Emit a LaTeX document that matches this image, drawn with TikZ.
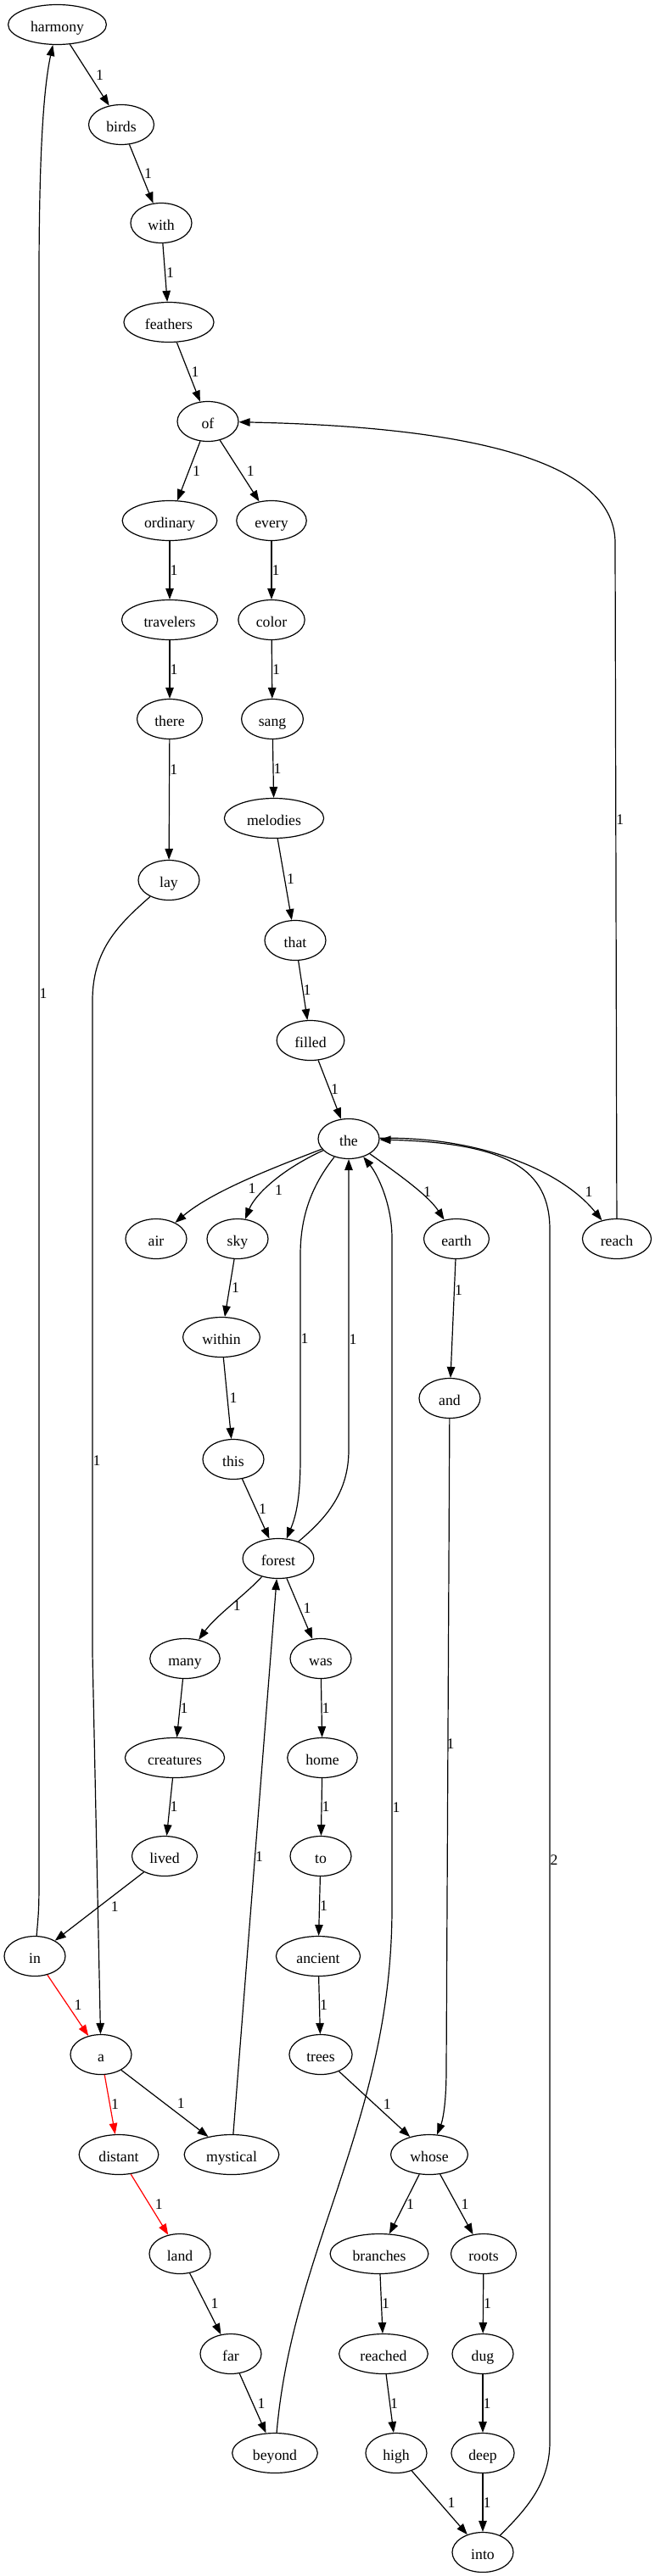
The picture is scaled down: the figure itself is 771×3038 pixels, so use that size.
\documentclass[tikz,border=0pt]{standalone}
\usepackage{fontspec}
\setmainfont{Liberation Serif}
\usepackage{tikz}
\usetikzlibrary{arrows.meta, shapes.geometric}

\newcommand{\wordsize}{\fontsize{17.7pt}{21pt}\selectfont}

\tikzset{
  word/.style={ellipse, draw, line width=1.2pt, font=\wordsize, inner xsep=9.5pt, inner ysep=2pt,
    minimum width=72pt, minimum height=47pt, text height=19pt, text depth=2pt},
  link/.style={line width=1.2pt, -{Triangle[length=13pt, width=9.5pt]}},
  redlink/.style={link, red},
  wt/.style={font=\wordsize, text=black, inner sep=0pt, anchor=west, midway},
}

\begin{document}
\begin{tikzpicture}[x=1pt, y=-1pt]
  \path[use as bounding box] (0,0) rectangle (771,3038);
  % 上部节点
  \node[word] (harmony) at (67.5,29) {harmony};
  \node[word] (birds) at (143,147) {birds};
  \node[word] (with) at (190,263) {with};
  \node[word] (feathers) at (199,380) {feathers};
  \node[word] (of) at (245,497) {of};
  \node[word] (ordinary) at (200,614) {ordinary};
  \node[word] (every) at (320,614) {every};
  \node[word] (travelers) at (200,731) {travelers};
  \node[word] (color) at (320,731) {color};
  \node[word] (there) at (200,848) {there};
  \node[word] (sang) at (321,848) {sang};
  \node[word] (melodies) at (323,965) {melodies};
  \node[word] (lay) at (199,1038) {lay};
  \node[word] (that) at (348,1109) {that};
  \node[word] (filled) at (366,1227) {filled};
  \node[word] (the) at (411,1343) {the};
  % 中部节点
  \node[word] (air) at (184,1461) {air};
  \node[word] (sky) at (280,1461) {sky};
  \node[word] (earth) at (538,1461) {earth};
  \node[word] (reach) at (727,1461) {reach};
  \node[word] (within) at (261,1577) {within};
  \node[word] (and) at (530,1649) {and};
  \node[word] (this) at (275,1721) {this};
  \node[word] (forest) at (328,1838) {forest};
  \node[word] (many) at (218,1956) {many};
  \node[word] (was) at (378,1956) {was};
  \node[word] (creatures) at (206,2073) {creatures};
  \node[word] (home) at (380,2073) {home};
  \node[word] (lived) at (194,2189) {lived};
  \node[word] (to) at (378,2189) {to};
  \node[word] (in) at (41,2307) {in};
  \node[word] (ancient) at (375,2307) {ancient};
  \node[word] (a) at (119,2423) {a};
  \node[word] (trees) at (378,2423) {trees};
  % 下部节点
  \node[word] (distant) at (140,2541) {distant};
  \node[word] (mystical) at (273,2541) {mystical};
  \node[word] (whose) at (506,2541) {whose};
  \node[word] (land) at (212,2658) {land};
  \node[word] (branches) at (447,2658) {branches};
  \node[word] (roots) at (570,2658) {roots};
  \node[word] (far) at (272,2776) {far};
  \node[word] (reached) at (452,2776) {reached};
  \node[word] (dug) at (569,2776) {dug};
  \node[word] (beyond) at (324,2893) {beyond};
  \node[word] (high) at (467,2893) {high};
  \node[word] (deep) at (569,2893) {deep};
  \node[word] (into) at (569,3010) {into};

  % 上部链
  \draw[link] (harmony) -- node[wt, xshift=7pt]{1} (birds);
  \draw[link] (birds) -- node[wt, xshift=3pt]{1} (with);
  \draw[link] (with) -- node[wt, xshift=1pt]{1} (feathers);
  \draw[link] (feathers) -- node[wt, xshift=3pt]{1} (of);
  \draw[link] (of) -- node[wt, xshift=4pt]{1} (ordinary);
  \draw[link] (of) -- node[wt, xshift=8pt]{1} (every);
  \draw[link] (ordinary) -- node[wt]{1} (travelers);
  \draw[link] (travelers) -- node[wt]{1} (there);
  \draw[link] (there) -- node[wt, pos=0.25]{1} (lay);
  \draw[link] (every) -- node[wt]{1} (color);
  \draw[link] (color) -- node[wt]{1} (sang);
  \draw[link] (sang) -- node[wt]{1} (melodies);
  \draw[link] (melodies) -- node[wt, xshift=2pt]{1} (that);
  \draw[link] (that) -- node[wt]{1} (filled);
  \draw[link] (filled) -- node[wt, xshift=1pt]{1} (the);

  % the 的分支
  \draw[link] (the) .. controls (320,1378) and (250,1405) .. node[wt, pos=0.6, xshift=23pt]{1} (air);
  \draw[link] (the) .. controls (330,1380) and (300,1410) .. node[wt, pos=0.6, xshift=12pt]{1} (sky);
  \draw[link] (the) .. controls (470,1385) and (505,1410) .. node[wt, pos=0.6, xshift=4pt]{1} (earth);
  \draw[link] (the) .. controls (560,1340) and (660,1378) .. node[wt, pos=0.8, xshift=15pt]{1} (reach);
  \draw[link] (reach) -- node[wt, pos=0.59]{1} (725,640) .. controls (725,540) and (540,503) .. (of);

  % 回到 the 的长边
  \draw[link] (the) .. controls (370,1395) and (354,1430) .. (354,1480)
    -- node[wt, pos=0.41]{1} (354,1720) .. controls (354,1770) and (348,1790) .. (forest);
  \draw[link] (forest) .. controls (385,1790) and (411,1760) .. (411,1710)
    -- node[wt, pos=0.38]{1} (the);
  \draw[link] (beyond) .. controls (345,2650) and (462,2500) .. (462,2250)
    -- node[wt, pos=0.15]{1} (462,1460) .. controls (462,1420) and (445,1385) .. (the);
  \draw[link] (into) .. controls (625,2955) and (648,2925) .. (648,2880)
    -- node[wt, pos=0.48]{2} (648,1450) .. controls (648,1380) and (600,1348) .. (the);

  % forest 周围
  \draw[link] (sky) -- node[wt, xshift=2pt]{1} (within);
  \draw[link] (within) -- node[wt, xshift=2pt]{1} (this);
  \draw[link] (this) -- node[wt, xshift=3pt]{1} (forest);
  \draw[link] (earth) -- node[wt, pos=0.26]{1} (and);
  \draw[link] (and) -- node[wt, xshift=-2pt]{1} (526,2440) .. controls (526,2490) and (520,2505) .. (whose);
  \draw[link] (forest) .. controls (290,1880) and (255,1905) .. node[wt, pos=0.5, xshift=2pt]{1} (many);
  \draw[link] (forest) -- node[wt, xshift=4pt]{1} (was);
  \draw[link] (many) -- node[wt]{1} (creatures);
  \draw[link] (creatures) -- node[wt]{1} (lived);
  \draw[link] (lived) -- node[wt, xshift=13pt]{1} (in);
  \draw[link] (was) -- node[wt]{1} (home);
  \draw[link] (home) -- node[wt]{1} (to);
  \draw[link] (to) -- node[wt]{1} (ancient);
  \draw[link] (ancient) -- node[wt]{1} (trees);
  \draw[link] (trees) -- node[wt, xshift=10pt]{1} (whose);

  % 左侧长边
  \draw[link] (in) .. controls (46,2250) .. (46,2200)
    -- node[wt, pos=0.55]{1} (46,330) .. controls (46,200) and (50,110) .. (harmony);
  \draw[link] (lay) .. controls (140,1090) and (109,1120) .. (109,1180)
    -- node[wt, pos=0.705]{1} (109,1950) -- (a);

  % 红色路径
  \draw[redlink] (in) -- node[wt, xshift=7pt]{1} (a);
  \draw[redlink] (a) -- node[wt, xshift=1pt]{1} (distant);
  \draw[redlink] (distant) -- node[wt, xshift=6pt]{1} (land);

  % 底部
  \draw[link] (a) -- node[wt, xshift=14pt]{1} (mystical);
  \draw[link] (mystical) -- node[wt]{1} (forest);
  \draw[link] (land) -- node[wt, xshift=6pt]{1} (far);
  \draw[link] (far) -- node[wt, xshift=5pt]{1} (beyond);
  \draw[link] (whose) -- node[wt, xshift=2pt]{1} (branches);
  \draw[link] (whose) -- node[wt, xshift=5pt]{1} (roots);
  \draw[link] (branches) -- node[wt]{1} (reached);
  \draw[link] (reached) -- node[wt]{1} (high);
  \draw[link] (high) -- node[wt, xshift=9pt]{1} (into);
  \draw[link] (roots) -- node[wt]{1} (dug);
  \draw[link] (dug) -- node[wt]{1} (deep);
  \draw[link] (deep) -- node[wt]{1} (into);
\end{tikzpicture}
\end{document}
